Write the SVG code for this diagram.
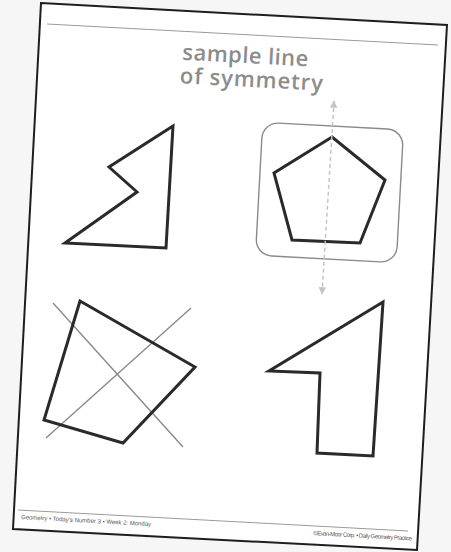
<svg xmlns="http://www.w3.org/2000/svg" width="451" height="552" viewBox="0 0 451 552">
<style>
.shape{fill:none;stroke:#2a2a2a;stroke-width:3;stroke-linejoin:miter}
.thin{fill:none;stroke:#8a8a8a;stroke-width:1.4}
.title{font-family:"Open Sans","DejaVu Sans",sans-serif;font-size:22px;fill:#8c8c8c;font-weight:600}
.foot{font-family:"Liberation Sans",Arial,sans-serif;font-size:6px;fill:#555}
</style>
<defs>
<marker id="ah" viewBox="0 0 10 10" refX="9" refY="5" markerWidth="6" markerHeight="5" orient="auto-start-reverse" markerUnits="strokeWidth">
<path d="M0,0 L10,5 L0,10 Z" fill="#c4c4c4"/>
</marker>
</defs>
<rect x="0" y="0" width="451" height="552" fill="#f6f6f6"/>
<g id="page">
<polygon points="41,3 447,25 417,550 13,529" fill="#ffffff" stroke="#1e1e1e" stroke-width="2"/>
<line x1="47" y1="24" x2="438" y2="45" stroke="#9a9a9a" stroke-width="1"/>
<line x1="18" y1="510" x2="408" y2="531" stroke="#9a9a9a" stroke-width="1"/>
<text class="foot" transform="rotate(3.1 21 519)" x="21" y="519">Geometry • Today's Number 3 • Week 2: Monday</text>
<text class="foot" transform="rotate(3.1 313 535)" x="313" y="535" textLength="99">©Evan-Moor Corp. • Daily Geometry Practice</text>
</g>
<g id="label">
<text class="title" text-anchor="middle" transform="rotate(3 245 63)" x="245" y="63" textLength="126">sample line</text>
<text class="title" text-anchor="middle" transform="rotate(3 251 87)" x="251" y="87" textLength="143">of symmetry</text>
</g>
<g id="shape1">
<polygon class="shape" points="173,126 109,167 137,192 65,243 166,248"/>
</g>
<g id="shape2">
<rect class="thin" x="259" y="126" width="141" height="133" rx="16" transform="rotate(3.1 329.5 192.5)"/>
<polygon class="shape" points="332,137 385,180 360,243 292,240 274,173"/>
</g>
<g id="shape3">
<line class="thin" x1="53" y1="303" x2="183" y2="447"/>
<line class="thin" x1="191" y1="308" x2="46" y2="438"/>
<polygon class="shape" points="80,301 195,367 123,443 44,420"/>
</g>
<g id="shape4">
<polygon class="shape" points="383,302 269,371 320,373 317,453 373,456"/>
</g>
<g id="connectors">
<line x1="334" y1="101" x2="322" y2="294" stroke="#c4c4c4" stroke-width="1.5" stroke-dasharray="4,3" marker-start="url(#ah)" marker-end="url(#ah)"/>
</g>
</svg>
